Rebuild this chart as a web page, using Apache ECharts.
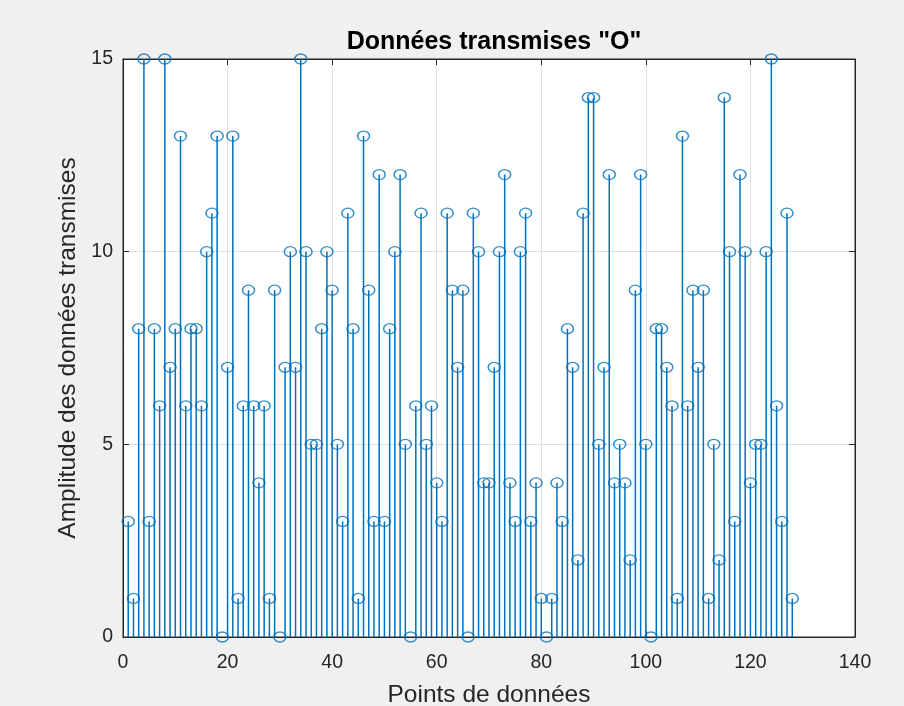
<!DOCTYPE html>
<html>
<head>
<meta charset="utf-8">
<script src="https://cdn.jsdelivr.net/npm/echarts@6/dist/echarts.min.js"></script>
<style>
  html, body { margin: 0; padding: 0; background: #f0f0f0; }
  #chart { width: 904px; height: 706px; }
</style>
</head>
<body>
<div id="chart"></div>
<script>
const titleText = 'Données transmises "O"';
const xName = 'Points de données';
const yName = 'Amplitude des données transmises';
const xTicks = [0, 20, 40, 60, 80, 100, 120, 140];
const yTicks = [0, 5, 10, 15];
const amplitudes = [
  3, 1, 8, 15, 3, 8, 6, 15, 7, 8,
  13, 6, 8, 8, 6, 10, 11, 13, 0, 7,
  13, 1, 6, 9, 6, 4, 6, 1, 9, 0,
  7, 10, 7, 15, 10, 5, 5, 8, 10, 9,
  5, 3, 11, 8, 1, 13, 9, 3, 12, 3,
  8, 10, 12, 5, 0, 6, 11, 5, 6, 4,
  3, 11, 9, 7, 9, 0, 11, 10, 4, 4,
  7, 10, 12, 4, 3, 10, 11, 3, 4, 1,
  0, 1, 4, 3, 8, 7, 2, 11, 14, 14,
  5, 7, 12, 4, 5, 4, 2, 9, 12, 5,
  0, 8, 8, 7, 6, 1, 13, 6, 9, 7,
  9, 1, 5, 2, 14, 10, 3, 12, 10, 4,
  5, 5, 10, 15, 6, 3, 11, 1
];
const points = amplitudes.map((v, i) => [i + 1, v]);

const stemColor = '#0072BD';
const axisColor = '#262626';
const gridColor = '#dfdfdf';
const font = '"Liberation Sans", Arial, Helvetica, sans-serif';

const chart = echarts.init(document.getElementById('chart'), null, { renderer: 'canvas' });

const baseX = {
  type: 'value', min: xTicks[0], max: xTicks[xTicks.length - 1], interval: 20,
  axisLine: { show: true, onZero: false, lineStyle: { color: axisColor, width: 1 } },
  axisTick: { show: true, inside: true, length: 6, lineStyle: { color: axisColor } },
};
const baseY = {
  type: 'value', min: yTicks[0], max: yTicks[yTicks.length - 1], interval: 5,
  axisLine: { show: true, onZero: false, lineStyle: { color: axisColor, width: 1 } },
  axisTick: { show: true, inside: true, length: 6, lineStyle: { color: axisColor } },
};

chart.setOption({
  backgroundColor: '#f0f0f0',
  animation: false,
  title: {
    text: titleText, left: 489, top: 25, textAlign: 'center',
    textStyle: { fontFamily: font, fontSize: 25, fontWeight: 'bold', color: '#000' }
  },
  grid: {
    left: 123, top: 59, right: 49, bottom: 69,
    containLabel: false, outerBoundsMode: 'none',
    show: true, backgroundColor: '#ffffff', borderColor: axisColor, borderWidth: 1
  },
  xAxis: [
    Object.assign({}, baseX, {
      position: 'bottom',
      name: xName, nameLocation: 'middle', nameGap: 46,
      nameTextStyle: { fontFamily: font, fontSize: 24.5, color: axisColor },
      axisLabel: { show: true, margin: 16, fontFamily: font, fontSize: 19.5, color: axisColor },
      splitLine: { show: true, lineStyle: { color: gridColor, width: 1 } }
    }),
    Object.assign({}, baseX, {
      position: 'top',
      axisLabel: { show: false },
      splitLine: { show: false }
    })
  ],
  yAxis: [
    Object.assign({}, baseY, {
      position: 'left',
      name: yName, nameLocation: 'middle', nameGap: 41,
      nameTextStyle: { fontFamily: font, fontSize: 24.5, color: axisColor },
      axisLabel: { show: true, margin: 10, fontFamily: font, fontSize: 19.5, color: axisColor },
      splitLine: { show: true, lineStyle: { color: gridColor, width: 1 } }
    }),
    Object.assign({}, baseY, {
      position: 'right',
      axisLabel: { show: false },
      splitLine: { show: false }
    })
  ],
  series: [
    {
      type: 'bar', xAxisIndex: 0, yAxisIndex: 0,
      data: points, barWidth: 1.5,
      itemStyle: { color: stemColor },
      silent: true, z: 3
    },
    {
      type: 'scatter', xAxisIndex: 0, yAxisIndex: 0,
      data: points, symbol: 'circle', symbolSize: [12, 10],
      itemStyle: { color: 'rgba(0,0,0,0)', borderColor: stemColor, borderWidth: 1.4 },
      clip: false, silent: true, z: 4
    }
  ]
});
</script>
</body>
</html>
